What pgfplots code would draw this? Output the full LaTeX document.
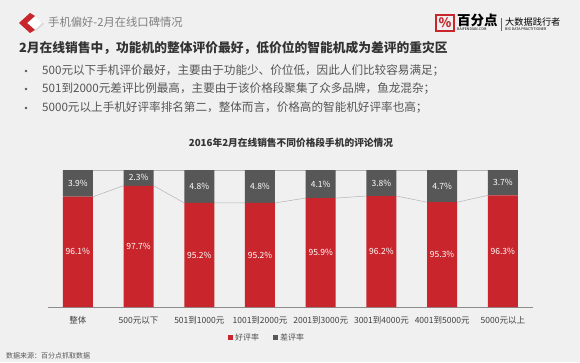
\documentclass[border=0pt]{standalone}
\usepackage{pgfplots}
\pgfplotsset{compat=1.18}
\usepackage{pgfplotstable}
\usepackage{fontspec}
\setmainfont{Noto Sans CJK SC}
\definecolor{goodred}{HTML}{C8262C}
\definecolor{badgray}{HTML}{575757}
\definecolor{bg}{HTML}{F0F0F0}
\definecolor{linegray}{HTML}{B4B4B4}
\definecolor{txtdark}{HTML}{333333}
\definecolor{txtmid}{HTML}{555555}

\pgfplotstableread{
x good bad
0 96.1 3.9
1 97.7 2.3
2 95.2 4.8
3 95.2 4.8
4 95.9 4.1
5 96.2 3.8
6 95.3 4.7
7 96.3 3.7
}\rating

\pgfplotsset{chartbase/.style={scale only axis, width=485.7pt, height=137pt,
  at={(47.5pt,55pt)}, anchor=south west, xmin=-0.5, xmax=7.5, ymin=80, ymax=100}}

\begin{document}
\begin{tikzpicture}[x=1pt,y=1pt]
\fill[bg] (0,0) rectangle (580,362);
% header icon
\fill[black!15] (36,345) -- (44,338) -- (36,331) -- (30,338) -- cycle;
\fill[white] (35,346) -- (42,339) -- (35,332) -- (29,339) -- cycle;
\fill[goodred] (30,349) -- (19,339) -- (30,329) -- (35,332) -- (27,339) -- (35,346) -- cycle;
\node[anchor=west, inner sep=0, text=black!50] at (48,340) {\fontsize{11.3}{12}\selectfont 手机偏好-2月在线口碑情况};
% logo
\draw[goodred, line width=1.2pt] (436,331) rectangle (454,347);
\node[text=goodred, inner sep=0] at (445,339) {\fontsize{13}{13}\selectfont\bfseries \%};
\node[anchor=west, inner sep=0] at (457,342) {\fontsize{13.5}{14}\selectfont\bfseries 百分点};
\node[anchor=west, inner sep=0] at (457,332.5) {\fontsize{3.6}{4}\selectfont BAIFENDIAN.COM};
\draw[black!60, line width=0.4pt] (501,331) -- (501,344);
\node[anchor=west, inner sep=0] at (505,340) {\fontsize{9.2}{10}\selectfont 大数据践行者};
\node[anchor=west, inner sep=0] at (505,332.5) {\fontsize{3.6}{4}\selectfont BIG DATA PRACTITIONER};
% heading
\node[anchor=west, inner sep=0, text=txtdark] at (19,314) {\fontsize{12.75}{14}\selectfont\bfseries 2月在线销售中，功能机的整体评价最好，低价位的智能机成为差评的重灾区};
\fill[txtmid] (26,291) circle (1.3);
\fill[txtmid] (26,273) circle (1.3);
\fill[txtmid] (26,254) circle (1.3);
\node[anchor=west, inner sep=0, text=txtmid] at (42,291) {\fontsize{11.6}{12}\selectfont 500元以下手机评价最好，主要由于功能少、价位低，因此人们比较容易满足；};
\node[anchor=west, inner sep=0, text=txtmid] at (42,273) {\fontsize{11.6}{12}\selectfont 501到2000元差评比例最高，主要由于该价格段聚集了众多品牌，鱼龙混杂；};
\node[anchor=west, inner sep=0, text=txtmid] at (42,254) {\fontsize{11.6}{12}\selectfont 5000元以上手机好评率排名第二，整体而言，价格高的智能机好评率也高；};
% chart title
\node[inner sep=0, text=txtdark] at (291,219) {\fontsize{9.7}{11}\selectfont\bfseries 2016年2月在线销售不同价格段手机的评论情况};
% source
\node[anchor=west, inner sep=0, text=txtmid] at (6,6) {\fontsize{7}{8}\selectfont 数据来源：百分点抓取数据};

% connecting lines
\begin{axis}[chartbase, hide axis, unbounded coords=jump]
\addplot[linegray, line width=0.5pt] coordinates {(0,100)(7,100)};
\addplot[linegray, line width=0.5pt] coordinates {
(0.25,96.1)(0.75,97.7) (nan,nan)
(1.25,97.7)(1.75,95.2) (nan,nan)
(2.25,95.2)(2.75,95.2) (nan,nan)
(3.25,95.2)(3.75,95.9) (nan,nan)
(4.25,95.9)(4.75,96.2) (nan,nan)
(5.25,96.2)(5.75,95.3) (nan,nan)
(6.25,95.3)(6.75,96.3)};
\end{axis}

% bars
\begin{axis}[chartbase, ybar stacked, bar width=30pt,
  axis x line*=bottom, axis y line=none,
  x axis line style={draw=black!45, -},
  xtick=data, xticklabels={整体,500元以下,501到1000元,1001到2000元,2001到3000元,3001到4000元,4001到5000元,5000元以上},
  major tick length=0pt,
  xticklabel style={font=\fontsize{8.5}{10}\selectfont, text=black!75, yshift=-6pt},
  legend style={draw=none, fill=none, legend columns=2, at={(0.452,-0.226)}, anchor=center,
    font=\fontsize{8}{9}\selectfont, text=txtmid,
    /tikz/every even column/.append style={column sep=12pt}},
  ]
\addplot[fill=goodred, draw=none, legend image code/.code={\fill[goodred] (0pt,-2.5pt) rectangle (5pt,2.5pt);}] table[x=x,y=good]{\rating};
\addplot[fill=badgray, draw=none, legend image code/.code={\fill[badgray] (0pt,-2.5pt) rectangle (5pt,2.5pt);}] table[x=x,y=bad]{\rating};
\legend{好评率,差评率}
\end{axis}

% labels
\begin{axis}[chartbase, hide axis,
  nodes near coords={\pgfmathprintnumber[fixed,fixed zerofill,precision=1]{\pgfplotspointmeta}\%},
  every node near coord/.append style={anchor=center, text=white, font=\fontsize{8.5}{9}\selectfont},
  /pgf/number format/assume math mode=true]
\addplot[only marks, mark=text, text mark={}, point meta=\thisrow{good}] table[x=x, y expr=(\thisrow{good}+80)/2]{\rating};
\addplot[only marks, mark=text, text mark={}, point meta=\thisrow{bad}] table[x=x, y expr=100-\thisrow{bad}/2]{\rating};
\end{axis}
\end{tikzpicture}
\end{document}
